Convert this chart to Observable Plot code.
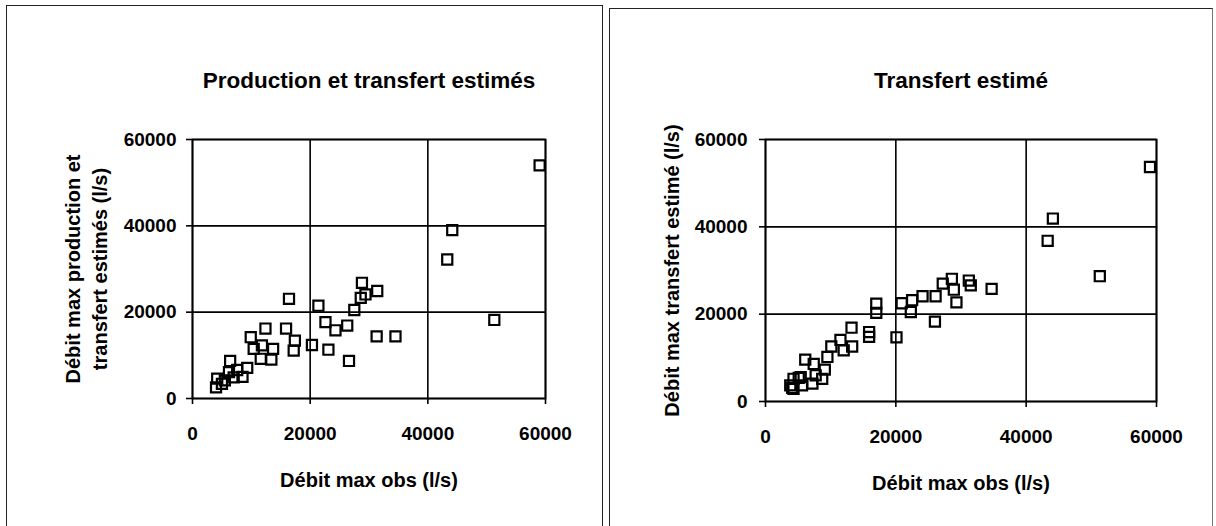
<!DOCTYPE html>
<html>
<head>
<meta charset="utf-8">
<script src="https://cdn.jsdelivr.net/npm/d3@7"></script>
<script src="https://cdn.jsdelivr.net/npm/@observablehq/plot@0.6"></script>
<style>
  html, body { margin: 0; padding: 0; background: #fff; }
  #wrap { position: relative; width: 1216px; height: 526px; overflow: hidden; background: #fff; }
  .panel { position: absolute; border: 1.5px solid #222; box-sizing: border-box; }
  .chart { position: absolute; top: 0; }
  svg { overflow: visible; }
</style>
</head>
<body>
<div id="wrap">
  <div class="panel" style="left:6px; top:5px; width:597px; height:540px;"></div>
  <div class="panel" style="left:609px; top:8px; width:604px; height:540px; border-right-color:#777;"></div>
  <div class="chart" id="left" style="left:0px;"></div>
  <div class="chart" id="right" style="left:608px;"></div>
</div>
<script>
// ---- Data ----
const titles = ["Production et transfert estimés", "Transfert estimé"];
const xLabel = "Débit max obs (l/s)";
const yLabels = ["Débit max production et\ntransfert estimés (l/s)", "Débit max transfert estimé (l/s)"];
const tickValues = [0, 20000, 40000, 60000];

// Left panel: observed max flow vs production + transfer estimate
const prodObs = [59000, 44150, 43300, 51300, 16400, 21400, 28800, 31400, 29400, 28600,
  27500, 31300, 34500, 26600, 22600, 24300, 26300, 20300, 23100, 9900,
  12400, 15900, 17400, 17200, 11800, 13700, 10400, 13400, 11600, 6400,
  9300, 7600, 7000, 5500, 4200, 4000, 8500, 6200, 5000];
const prodEst = [54000, 39000, 32200, 18200, 23100, 21500, 26800, 24900, 24100, 23300,
  20500, 14400, 14400, 8700, 17700, 15800, 16900, 12400, 11300, 14200,
  16200, 16200, 13400, 11100, 12300, 11500, 11500, 9000, 9200, 8700,
  7100, 6600, 4900, 4200, 4600, 2600, 5000, 6100, 3400];

// Right panel: observed max flow vs transfer estimate
const transObs = [59000, 44100, 43300, 51300, 34700, 31200, 31500, 28600, 27200, 28900,
  29300, 26100, 24100, 22500, 22300, 20900, 26000, 20100, 17000, 17000,
  15900, 15900, 13200, 13300, 11500, 12000, 10100, 9500, 9100, 6100,
  7400, 7700, 5400, 4300, 4300, 5600, 7200, 3800, 8700, 5100, 4100];
const transEst = [53700, 41900, 36800, 28700, 25800, 27700, 26600, 28100, 27000, 25600,
  22700, 24100, 24100, 23200, 20500, 22500, 18300, 14700, 22400, 20300,
  15900, 14800, 16900, 12600, 14100, 11700, 12600, 10200, 7300, 9600,
  8600, 6000, 5600, 5200, 2900, 3700, 4100, 3700, 5200, 5400, 3100];

const FONT = "'Liberation Sans', Arial, Helvetica, sans-serif";

function makePanel(xs, ys, title, yLabel, m, yLabelDx, yTickPad) {
  const pts = xs.map((x, i) => ({x, y: ys[i]}));
  return Plot.plot({
    width: 608,
    height: 526,
    marginLeft: m.left,
    marginRight: m.right,
    marginTop: m.top,
    marginBottom: m.bottom,
    style: {fontFamily: FONT, fontSize: "19px", fontWeight: "bold", color: "#000", background: "transparent"},
    x: {domain: [0, 60000]},
    y: {domain: [0, 60000]},
    marks: [
      Plot.gridX(tickValues, {stroke: "#000", strokeOpacity: 1, strokeWidth: 1.6}),
      Plot.gridY(tickValues, {stroke: "#000", strokeOpacity: 1, strokeWidth: 1.6}),
      Plot.frame({stroke: "#000", strokeWidth: 1.8}),
      Plot.axisX({ticks: tickValues, tickFormat: d => String(d), tickSize: 6, tickPadding: 22,
        label: null, fontSize: 19, fontWeight: "bold", stroke: "#000", strokeWidth: 1.6}),
      Plot.axisY({ticks: tickValues, tickFormat: d => String(d), tickSize: 6, tickPadding: yTickPad,
        label: null, fontSize: 19, fontWeight: "bold", stroke: "#000", strokeWidth: 1.6}),
      Plot.dot(pts, {x: "x", y: "y", symbol: "square", r: 5.7, stroke: "#000", strokeWidth: 2.2, fill: "none"}),
      Plot.text([title], {text: d => d, frameAnchor: "top", dy: -67, fontSize: 22.5, fontWeight: "bold", fill: "#000"}),
      Plot.text([xLabel], {text: d => d, frameAnchor: "bottom", dy: 88, fontSize: 20, fontWeight: "bold", fill: "#000"}),
      Plot.text([yLabel], {text: d => d, frameAnchor: "left", textAnchor: "middle", dx: yLabelDx, rotate: -90, lineHeight: 1.35,
        fontSize: 20, fontWeight: "bold", fill: "#000"})
    ]
  });
}

document.getElementById("left").appendChild(
  makePanel(prodObs, prodEst, titles[0], yLabels[0], {left: 192, right: 63, top: 139, bottom: 128}, -108, 10)
);
document.getElementById("right").appendChild(
  makePanel(transObs, transEst, titles[1], yLabels[1], {left: 157, right: 60, top: 139, bottom: 125}, -95, 12)
);
</script>
</body>
</html>
